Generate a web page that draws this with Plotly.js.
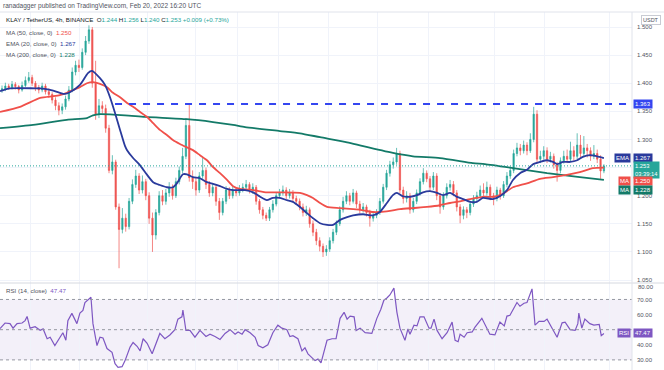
<!DOCTYPE html>
<html><head><meta charset="utf-8">
<script src="https://cdn.plot.ly/plotly-3.0.1.min.js"></script>
<style>html,body{margin:0;padding:0;background:#fff}#chart{width:664px;height:370px}</style>
</head><body><div id="chart"></div>
<script>
// ---- candle data (4h KLAY/USDT) ----
const openP = [
1.388,1.390,1.395,1.392,1.398,1.394,1.388,1.396,1.405,1.410,
1.400,1.392,1.388,1.395,1.385,1.380,1.370,1.360,1.352,1.358,
1.372,1.388,1.420,1.432,1.428,1.455,1.475,1.495,1.400,1.345,
1.360,1.355,1.320,1.245,1.260,1.180,1.140,1.160,1.145,1.190,
1.220,1.235,1.210,1.225,1.200,1.160,1.130,1.170,1.200,1.190,
1.205,1.215,1.200,1.225,1.245,1.270,1.325,1.232,1.225,1.210,
1.235,1.245,1.220,1.205,1.215,1.190,1.170,1.190,1.210,1.200,
1.210,1.205,1.212,1.215,1.220,1.210,1.215,1.190,1.175,1.165,
1.160,1.175,1.185,1.200,1.205,1.210,1.200,1.205,1.195,1.190,
1.180,1.170,1.175,1.150,1.135,1.120,1.110,1.100,1.105,1.120,
1.135,1.150,1.175,1.190,1.200,1.190,1.205,1.185,1.175,1.180,
1.170,1.160,1.165,1.170,1.190,1.215,1.240,1.255,1.260,1.275,
1.210,1.195,1.200,1.175,1.190,1.205,1.225,1.240,1.230,1.215,
1.235,1.200,1.180,1.200,1.215,1.220,1.205,1.180,1.165,1.175,
1.170,1.185,1.195,1.200,1.210,1.205,1.215,1.200,1.195,1.210,
1.200,1.220,1.235,1.245,1.275,1.285,1.280,1.290,1.280,1.300,
1.345,1.265,1.270,1.280,1.265,1.270,1.255,1.245,1.262,1.270,
1.265,1.280,1.270,1.290,1.275,1.285,1.280,1.270,1.275,1.265,
1.244];
const highP = [
1.396,1.401,1.399,1.404,1.402,1.397,1.403,1.412,1.420,1.415,
1.404,1.397,1.401,1.399,1.391,1.384,1.375,1.366,1.364,1.378,
1.395,1.428,1.440,1.442,1.462,1.484,1.503,1.500,1.440,1.372,
1.368,1.362,1.326,1.272,1.264,1.186,1.178,1.168,1.196,1.229,
1.246,1.240,1.236,1.230,1.206,1.170,1.176,1.208,1.210,1.212,
1.224,1.220,1.232,1.252,1.285,1.338,1.362,1.245,1.232,1.242,
1.268,1.250,1.226,1.222,1.220,1.196,1.196,1.217,1.215,1.216,
1.214,1.219,1.222,1.228,1.224,1.222,1.219,1.194,1.180,1.170,
1.180,1.192,1.206,1.212,1.218,1.215,1.212,1.210,1.200,1.195,
1.186,1.182,1.179,1.156,1.141,1.126,1.115,1.112,1.126,1.141,
1.156,1.181,1.198,1.208,1.205,1.212,1.209,1.191,1.187,1.184,
1.175,1.171,1.176,1.196,1.221,1.246,1.262,1.268,1.285,1.280,
1.216,1.208,1.205,1.196,1.211,1.231,1.249,1.245,1.235,1.242,
1.240,1.205,1.206,1.222,1.228,1.226,1.210,1.185,1.181,1.180,
1.191,1.201,1.207,1.218,1.222,1.225,1.220,1.205,1.216,1.214,
1.226,1.242,1.252,1.282,1.294,1.292,1.298,1.295,1.311,1.358,
1.352,1.280,1.288,1.286,1.278,1.275,1.260,1.268,1.280,1.282,
1.296,1.288,1.311,1.308,1.306,1.292,1.286,1.290,1.282,1.272,
1.256];
const lowP = [
1.383,1.386,1.388,1.389,1.389,1.382,1.385,1.393,1.401,1.395,
1.386,1.382,1.384,1.380,1.374,1.364,1.352,1.343,1.345,1.353,
1.368,1.384,1.414,1.420,1.424,1.450,1.470,1.392,1.335,1.338,
1.346,1.312,1.240,1.238,1.175,1.071,1.133,1.136,1.140,1.185,
1.214,1.203,1.204,1.192,1.150,1.100,1.122,1.165,1.183,1.184,
1.198,1.193,1.196,1.220,1.240,1.265,1.225,1.212,1.200,1.205,
1.230,1.212,1.198,1.199,1.182,1.157,1.165,1.185,1.194,1.195,
1.199,1.200,1.206,1.210,1.204,1.203,1.184,1.168,1.158,1.155,
1.155,1.170,1.181,1.195,1.200,1.194,1.195,1.189,1.184,1.174,
1.163,1.164,1.143,1.128,1.112,1.101,1.091,1.093,1.100,1.115,
1.130,1.146,1.170,1.185,1.183,1.186,1.178,1.168,1.170,1.163,
1.145,1.154,1.160,1.166,1.186,1.210,1.234,1.248,1.255,1.204,
1.186,1.188,1.168,1.170,1.185,1.200,1.220,1.224,1.208,1.210,
1.192,1.168,1.175,1.195,1.209,1.199,1.172,1.151,1.158,1.160,
1.165,1.180,1.190,1.196,1.199,1.200,1.192,1.183,1.190,1.193,
1.196,1.215,1.230,1.240,1.270,1.272,1.275,1.272,1.276,1.295,
1.258,1.258,1.264,1.258,1.259,1.248,1.225,1.240,1.257,1.258,
1.260,1.262,1.265,1.268,1.270,1.268,1.262,1.265,1.258,1.230,
1.240];
const closeP = [
1.390,1.395,1.392,1.398,1.394,1.388,1.396,1.405,1.410,1.400,
1.392,1.388,1.395,1.385,1.380,1.370,1.360,1.352,1.358,1.372,
1.388,1.420,1.432,1.428,1.455,1.475,1.495,1.400,1.345,1.360,
1.355,1.320,1.245,1.260,1.180,1.140,1.160,1.145,1.190,1.220,
1.235,1.210,1.225,1.200,1.160,1.130,1.170,1.200,1.190,1.205,
1.215,1.200,1.225,1.245,1.270,1.325,1.232,1.225,1.210,1.235,
1.245,1.220,1.205,1.215,1.190,1.170,1.190,1.210,1.200,1.210,
1.205,1.212,1.215,1.220,1.210,1.215,1.190,1.175,1.165,1.160,
1.175,1.185,1.200,1.205,1.210,1.200,1.205,1.195,1.190,1.180,
1.170,1.175,1.150,1.135,1.120,1.110,1.100,1.105,1.120,1.135,
1.150,1.175,1.190,1.200,1.190,1.205,1.185,1.175,1.180,1.170,
1.160,1.165,1.170,1.190,1.215,1.240,1.255,1.260,1.275,1.210,
1.195,1.200,1.175,1.190,1.205,1.225,1.240,1.230,1.215,1.235,
1.200,1.180,1.200,1.215,1.220,1.205,1.180,1.165,1.175,1.170,
1.185,1.195,1.200,1.210,1.205,1.215,1.200,1.195,1.210,1.200,
1.220,1.235,1.245,1.275,1.285,1.280,1.290,1.280,1.300,1.345,
1.265,1.270,1.280,1.265,1.270,1.255,1.245,1.262,1.270,1.265,
1.280,1.270,1.290,1.275,1.285,1.280,1.270,1.275,1.265,1.244,
1.253];

// ---- moving averages (candle index, price) ----
const emaX = [-0.6,2.4,9.9,11.4,14.4,17.3,18.8,20.3,23.3,25.7,26.9,29.3,30.8,32.3,33.8,35.3,36.8,37.4,39.2,41.3,43.4,45.2,47.2,49.3,51.1,52.3,54.1,55.3,57.1,59.2,61.3,63.1,65.2,67.3,69.1,72.7,75.1,77.2,79.2,81,83.1,85.2,87,89.1,91.2,93,95.1,97.2,99,101.1,103.2,105,108,110.9,113,115.1,116.9,118.1,119.9,122,124.1,125.9,128,130.1,131.9,134,136.1,137.9,140,142,143.8,146.8,148.9,151,152.8,154.9,157,158.8,160.9,163,164.8,166,167.8,169.9,172,173.7,175.8,177.9,180];
const emaV = [1.386,1.391,1.391,1.391,1.388,1.383,1.381,1.384,1.397,1.418,1.422,1.409,1.397,1.375,1.347,1.317,1.288,1.281,1.267,1.254,1.237,1.224,1.219,1.215,1.215,1.222,1.238,1.238,1.233,1.231,1.224,1.221,1.217,1.212,1.210,1.210,1.206,1.198,1.192,1.196,1.196,1.192,1.189,1.180,1.169,1.160,1.151,1.148,1.148,1.157,1.162,1.165,1.167,1.165,1.171,1.187,1.201,1.205,1.199,1.198,1.201,1.206,1.208,1.205,1.201,1.205,1.198,1.194,1.189,1.189,1.196,1.194,1.199,1.210,1.228,1.240,1.246,1.256,1.260,1.263,1.260,1.256,1.260,1.260,1.263,1.269,1.272,1.270,1.267];
const ma50X = [-0.6,5.4,11.4,15.3,17.3,19.4,21.2,23.3,25.4,27.2,29.3,31.4,33.2,35.3,37.4,39.2,41.3,43.4,45.2,47.2,49.3,51.1,53.2,55.3,57.1,59.2,61.3,63.1,65.2,67.3,69.1,71.2,75.1,79.2,83.1,89.1,91.2,93,95.1,97.2,101.1,105,108,110.9,113,116,119,122.9,127.1,131,134,137,140,143.8,146.8,148.9,151,152.8,157,160.9,164.8,168.9,172.8,176.7,180];
const ma50V = [1.349,1.358,1.374,1.377,1.379,1.383,1.388,1.393,1.400,1.402,1.399,1.393,1.383,1.375,1.365,1.358,1.349,1.340,1.329,1.317,1.308,1.299,1.292,1.286,1.281,1.272,1.263,1.251,1.240,1.228,1.217,1.212,1.210,1.206,1.206,1.205,1.201,1.196,1.187,1.180,1.178,1.176,1.174,1.171,1.171,1.173,1.176,1.178,1.180,1.183,1.187,1.190,1.194,1.198,1.198,1.201,1.208,1.215,1.222,1.230,1.233,1.237,1.242,1.249,1.250];
const ma200X = [-0.6,9.3,19.4,25.4,27.2,29.3,36.8,42.8,55.3,63.1,69.1,72.7,83.1,89.1,95.1,103.2,108,116.9,122.9,131,140.8,144.4,152.8,163,172.8,180];
const ma200V = [1.320,1.326,1.335,1.338,1.343,1.345,1.343,1.340,1.336,1.331,1.326,1.322,1.315,1.311,1.304,1.295,1.288,1.276,1.270,1.267,1.258,1.256,1.249,1.240,1.233,1.228];

// ---- RSI(14) ----
const rsiX = [-0.6,0.9,2.4,3.3,4.5,6,6.9,7.5,8.4,9.9,11.4,12.3,13.5,14.4,15.8,17.3,18.2,19.1,19.7,20.9,22.4,23.3,24.2,24.8,25.7,26.6,27.2,28.4,29.3,30.2,31.4,32.9,33.8,34.7,35.9,36.8,38.3,39.2,40.4,41.3,42.2,43.4,44.9,45.8,47.2,48.7,50.2,51.7,52.6,53.8,54.1,55,56.2,57.7,59.2,61,62.2,63.7,65.2,66.7,68.2,69.7,70.6,71.8,72.7,74.2,75.7,76.6,78,79.5,81,82.5,83.7,85.2,86.1,87,88.5,89.7,90.6,91.5,93.6,94.5,95.4,96,97.2,98.7,99.9,101.1,102.3,103.2,104.1,105.3,105.9,107.1,108.6,110.6,112.1,113.3,114.2,115.1,116,117.2,118.1,119,120.5,121.4,122,123.2,124.1,125,126.2,127.7,128.3,129.2,130.1,131.6,133.1,134.6,135.5,136.4,137,138.2,139.1,140.6,141.4,143.5,145,145.9,147.4,148.9,150.2,151,151.9,153.1,154,154.9,156.1,157,157.9,158.5,159.4,160.6,162.1,163,164.5,166,167.5,168.4,169.9,171.4,172.2,172.5,173.4,174.3,175.8,177,178.6,179.2,180];
const rsiV = [50.7,54.4,54,51,54,54.4,56,58.8,51,52,49.6,50.5,44,45,39.5,45,48,43,56,60.8,54,61,62.8,68,70,71.5,54,39.5,45,44.5,37.5,35,27.5,25,25.5,29.5,38.5,41.5,39,36,44,41,34,39,47.5,44,46.5,50,57,58.5,63,49.5,49.5,45,49.5,45.5,47,45.5,43.5,47.5,50,47,48.5,47,50,48,45,39.5,38,40,48,53,51,50,45.5,46,44,36,38,34,29.5,30.5,28,33,43,44,44,57.5,61.5,57,59,58.5,49.5,51,48,47.5,57.5,63.5,69.5,71,73,77.5,61.5,51,43,50.5,47,53,52.5,58.5,58.5,51,51,57,49.5,44,48,55,43,42,47,45,48,48.5,51.5,57.5,51,47,46.5,55,52.5,59,59.5,65,68,65.5,67.5,68,73,77,53,55.5,55.5,57,51,45,54.5,55,50,49.5,54,61,51,57,54,53,53.5,46,47.47];

// ---- levels & ticks ----
const resistance = [1.363];
const lastClose = [1.253];
const rsiLevels = [70, 50, 30];
const priceTicks = [1.05,1.10,1.15,1.20,1.25,1.30,1.35,1.40,1.45,1.50];
const priceTickText = ['1.050','1.100','1.150','1.200','','1.300','1.350','1.400','1.450','1.500'];
const rsiTicks = [30,40,60,70];
const rsiTickText = ['30.00','40.00','60.00','70.00'];
const rsiTopTick = [80, '80.00'];
const gridX = [8.4,23.3,43.4,58,70.3,82.8,97.5,112.4,127.4,147.4,162.1,181.8];

const idx = closeP.map((_, i) => i);
const UP = '#26a69a', DN = '#ef5350';
const EMAC = '#2a3a9c', MA50C = '#f0504a', MA200C = '#137a68', RSIC = '#7e57c2';

const traces = [
  {type:'candlestick', x:idx, open:openP, high:highP, low:lowP, close:closeP,
   xaxis:'x', yaxis:'y', whiskerwidth:0, hoverinfo:'skip',
   increasing:{line:{color:UP,width:0.7}, fillcolor:UP},
   decreasing:{line:{color:DN,width:0.7}, fillcolor:DN}},
  {type:'scatter', mode:'lines', x:ma200X, y:ma200V, xaxis:'x', yaxis:'y', line:{color:MA200C,width:1.8,shape:'spline',smoothing:0.6}, hoverinfo:'skip'},
  {type:'scatter', mode:'lines', x:ma50X, y:ma50V, xaxis:'x', yaxis:'y', line:{color:MA50C,width:1.8,shape:'spline',smoothing:0.6}, hoverinfo:'skip'},
  {type:'scatter', mode:'lines', x:emaX, y:emaV, xaxis:'x', yaxis:'y', line:{color:EMAC,width:1.8,shape:'spline',smoothing:0.6}, hoverinfo:'skip'},
  {type:'scatter', mode:'lines', x:rsiX, y:rsiV, xaxis:'x2', yaxis:'y2', line:{color:RSIC,width:1.2}, hoverinfo:'skip'}
];

const PH = 358; // plot height in px (370 - 12 top)
const py = (ypx) => (370 - ypx) / PH;   // pixel row -> paper y
const px = (xpx) => xpx / 632;          // pixel col -> paper x

const shapes = [
  {type:'rect', xref:'paper', yref:'y2', x0:0, x1:1, y0:30, y1:70, fillcolor:'rgba(126,87,194,0.09)', line:{width:0}, layer:'below'},
  ...rsiLevels.map(v => ({type:'line', xref:'paper', yref:'y2', x0:0, x1:1, y0:v, y1:v, line:{color:'#9598a1', width:1, dash:'3px,3px'}})),
  {type:'line', xref:'paper', yref:'y', x0:0, x1:1, y0:lastClose[0], y1:lastClose[0], line:{color:UP, width:1, dash:'1px,2px'}},
  {type:'line', xref:'x', yref:'y', x0:33.8, x1:188.4, y0:resistance[0], y1:resistance[0], line:{color:'#3446f0', width:2, dash:'7px,7px'}},
  {type:'line', xref:'paper', yref:'paper', x0:0, x1:px(664), y0:py(283), y1:py(283), line:{color:'#d6d9e0', width:1}},
  {type:'line', xref:'paper', yref:'paper', x0:0, x1:px(664), y0:1, y1:1, line:{color:'#e0e3eb', width:1}},
  {type:'line', xref:'paper', yref:'paper', x0:1, x1:1, y0:0, y1:1, line:{color:'#e0e3eb', width:1}}
];

const F = 'Liberation Sans, Arial, sans-serif';
function box(text, x, xanchor, y, yref, bg, extra) {
  return Object.assign({text, x, xref:'paper', xanchor, y, yref, yanchor:'middle', showarrow:false,
    bgcolor:bg, borderpad:1, font:{family:F, size:6, color:'#fff'}}, extra || {});
}
const annotations = [
  {text:'ranadagger published on TradingView.com, Feb 20, 2022 16:20 UTC', xref:'paper', yref:'paper', x:px(1), y:py(6), xanchor:'left', yanchor:'middle', showarrow:false, font:{family:F, size:6.5, color:'#50535e'}},
  {text:'KLAY / TetherUS, 4h, BINANCE  O<span style="color:#26a69a">1.244</span> H<span style="color:#26a69a">1.256</span> L<span style="color:#26a69a">1.240</span> C<span style="color:#26a69a">1.253</span> <span style="color:#26a69a">+0.009 (+0.73%)</span>', xref:'paper', yref:'paper', x:px(4), y:py(20), xanchor:'left', yanchor:'middle', showarrow:false, font:{family:F, size:6.2, color:'#131722'}},
  {text:'MA (50, close, 0)  <span style="color:#f0504a">1.250</span>', xref:'paper', yref:'paper', x:px(4), y:py(32), xanchor:'left', yanchor:'middle', showarrow:false, font:{family:F, size:6.2, color:'#50535e'}},
  {text:'EMA (20, close, 0)  <span style="color:#2a3a9c">1.267</span>', xref:'paper', yref:'paper', x:px(4), y:py(43), xanchor:'left', yanchor:'middle', showarrow:false, font:{family:F, size:6.2, color:'#50535e'}},
  {text:'MA (200, close, 0)  <span style="color:#137a68">1.228</span>', xref:'paper', yref:'paper', x:px(4), y:py(54), xanchor:'left', yanchor:'middle', showarrow:false, font:{family:F, size:6.2, color:'#50535e'}},
  {text:'RSI (14, close)  <span style="color:#7e57c2">47.47</span>', xref:'paper', yref:'paper', x:px(4), y:py(290), xanchor:'left', yanchor:'middle', showarrow:false, font:{family:F, size:6.2, color:'#50535e'}},
  {text:rsiTopTick[1], xref:'paper', yref:'y2', x:px(636), y:rsiTopTick[0], yshift:-3, xanchor:'left', yanchor:'middle', showarrow:false, font:{family:F, size:6, color:'#50535e'}},
  {text:'USDT', xref:'paper', yref:'paper', x:px(641), y:py(20), xanchor:'left', yanchor:'middle', showarrow:false, bgcolor:'#fff', bordercolor:'#c8cbd3', borderwidth:1, borderpad:1, font:{family:F, size:5.5, color:'#50535e'}},
  box('1.363', px(633), 'left', resistance[0], 'y', '#3446f0'),
  box('EMA', px(631), 'right', 1.267, 'y', EMAC),
  box('1.267', px(633), 'left', 1.267, 'y', EMAC),
  box('1.253<br>03:39:14', px(633), 'left', py(169.5), 'paper', UP, {align:'left', font:{family:F, size:5.8, color:'#fff'}}),
  box('MA', px(631), 'right', py(181), 'paper', MA50C),
  box('1.250', px(633), 'left', py(181), 'paper', MA50C),
  box('MA', px(631), 'right', py(189.5), 'paper', MA200C),
  box('1.228', px(633), 'left', py(189.5), 'paper', MA200C),
  box('RSI', px(631), 'right', 47.47, 'y2', RSIC),
  box('47.47', px(633), 'left', 47.47, 'y2', RSIC)
];

const xcommon = {range:[-0.6,188.4], tickvals:gridX, showticklabels:false, showgrid:true, gridcolor:'#f0f3fa', gridwidth:1, zeroline:false, ticks:'', showline:false, fixedrange:true};
const layout = {
  width:664, height:370, margin:{l:0, r:32, t:12, b:0, pad:0},
  paper_bgcolor:'#ffffff', plot_bgcolor:'#ffffff', showlegend:false,
  boxgap:0.45,
  font:{family:F, size:6, color:'#131722'},
  xaxis:Object.assign({anchor:'y', domain:[0,1], rangeslider:{visible:false}}, xcommon),
  xaxis2:Object.assign({anchor:'y2', domain:[0,1]}, xcommon),
  yaxis:{domain:[0.243,1], range:[1.0447,1.5267], side:'right', anchor:'x', tickvals:priceTicks, ticktext:priceTickText,
         showgrid:true, gridcolor:'#f0f3fa', zeroline:false, ticks:'', ticklabelstandoff:4, tickfont:{family:F, size:6, color:'#50535e'}, fixedrange:true},
  yaxis2:{domain:[0,0.243], range:[23.3,80.9], side:'right', anchor:'x2', tickvals:rsiTicks, ticktext:rsiTickText,
         showgrid:false, zeroline:false, ticks:'', ticklabelstandoff:4, tickfont:{family:F, size:6, color:'#50535e'}, fixedrange:true},
  shapes, annotations
};
Plotly.newPlot('chart', traces, layout, {staticPlot:true, displayModeBar:false});
</script>
</body></html>
